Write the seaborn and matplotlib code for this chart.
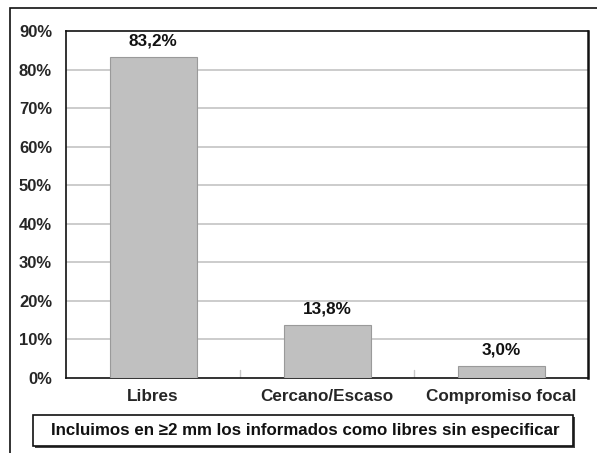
import matplotlib
matplotlib.use("Agg")
import matplotlib.pyplot as plt
import matplotlib.patches as mpatches
import seaborn as sns
import pandas as pd

categories = ["Libres", "Cercano/Escaso", "Compromiso focal"]
values = [83.2, 13.8, 3.0]
value_labels = ["83,2%", "13,8%", "3,0%"]
y_ticks = [0, 10, 20, 30, 40, 50, 60, 70, 80, 90]
note = "Incluimos en \u22652 mm los informados como libres sin especificar"

sns.set_theme(style="white")
plt.rcParams["font.family"] = ["Liberation Sans", "DejaVu Sans"]
plt.rcParams["font.weight"] = "bold"

df = pd.DataFrame({"cat": categories, "val": values})

W, H = 597, 453
fig = plt.figure(figsize=(W / 100, H / 100), dpi=100)
ax = fig.add_axes([66 / W, 1 - 378 / H, (588 - 66) / W, (378 - 31) / H])

sns.barplot(data=df, x="cat", y="val", color="#c0c0c0", width=0.5,
            edgecolor="#9a9a9a", linewidth=0.8, saturation=1, ax=ax, zorder=3)

ax.set_ylim(0, 90)
ax.set_xlim(-0.5, 2.5)
ax.set_yticks(y_ticks)
ax.set_yticklabels([f"{t}%" for t in y_ticks], fontsize=12, fontweight="bold")
ax.set_xticks(range(len(categories)))
ax.set_xticklabels(categories, fontsize=12.3, fontweight="bold")
ax.tick_params(axis="x", length=0, pad=8)
ax.tick_params(axis="y", length=0, pad=10)
ax.set_xlabel("")
ax.set_ylabel("")

# light horizontal grid
for t in y_ticks[1:-1]:
    ax.axhline(t, color="#c4c4c4", linewidth=1.2, zorder=1)

# small separators between categories on the baseline
for xb in [0.5, 1.5]:
    ax.plot([xb, xb], [0, 2], color="#c8c8c8", linewidth=1, zorder=2)

for i, (v, lab) in enumerate(zip(values, value_labels)):
    ax.text(i, v + 2.2, lab, ha="center", va="bottom", fontsize=12.3,
            fontweight="bold", color="#111111")

for side, s in ax.spines.items():
    s.set_visible(True)
    s.set_color("#111111")
    s.set_linewidth(1.2)
ax.spines["right"].set_linewidth(1.8)

# note box with a drop-shadow edge
bx, by, bw, bh = 33, 415, 540, 31
fig.patches.append(mpatches.Rectangle(((bx + 1.5) / W, 1 - (by + bh + 1.5) / H), bw / W, bh / H,
                                      transform=fig.transFigure, facecolor="#444444",
                                      edgecolor="none", zorder=1))
fig.patches.append(mpatches.Rectangle((bx / W, 1 - (by + bh) / H), bw / W, bh / H,
                                      transform=fig.transFigure, facecolor="white",
                                      edgecolor="#111111", linewidth=1.2, zorder=2))
fig.text((bx + bw / 2 + 2) / W, 1 - (by + bh / 2 + 0.5) / H, note, ha="center", va="center",
         fontsize=12.2, fontweight="bold", color="#111111", zorder=3)

# outer frame
fig.patches.append(mpatches.Rectangle((10 / W, -0.05), 1.1, 1 - 8 / H + 0.05,
                                      transform=fig.transFigure, facecolor="none",
                                      edgecolor="#111111", linewidth=1.2, zorder=0))

fig.savefig("out.png", dpi=100)
